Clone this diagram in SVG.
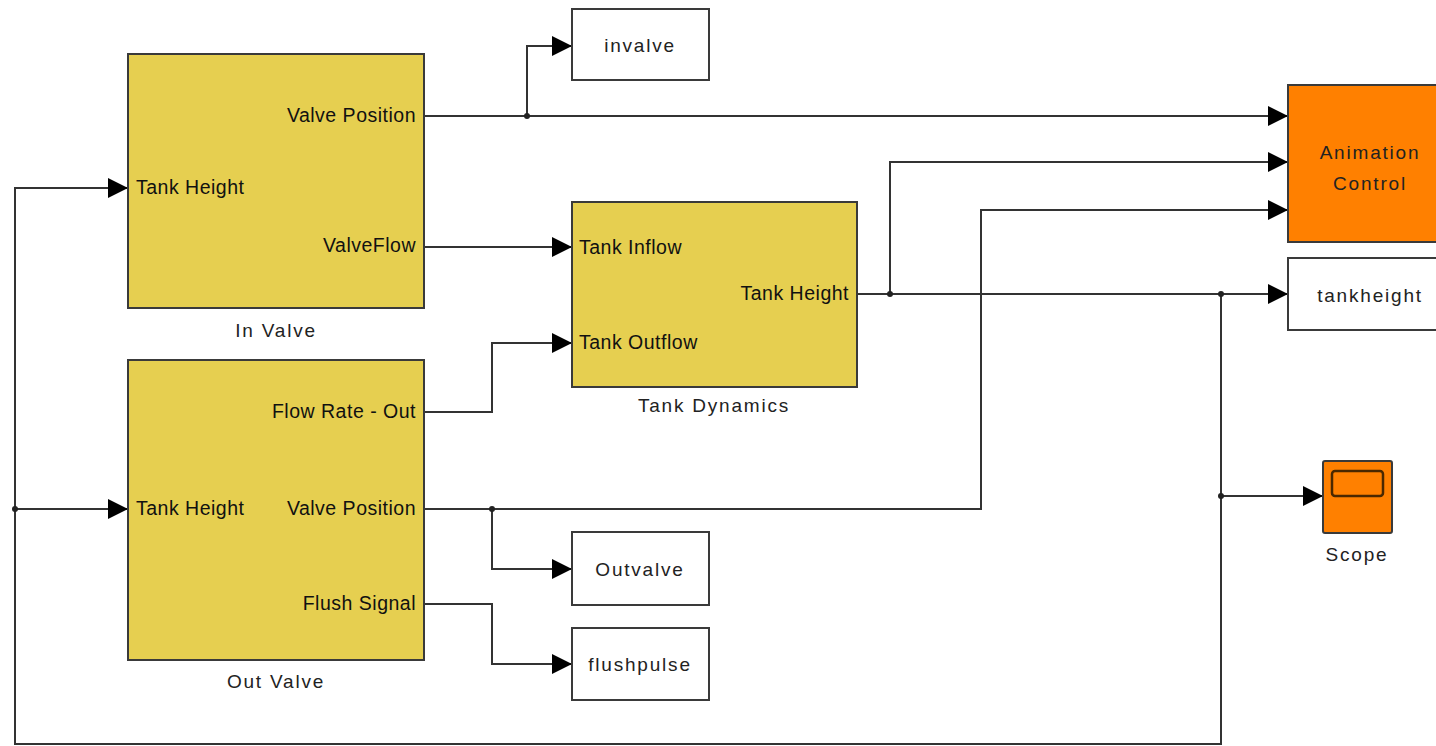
<svg xmlns="http://www.w3.org/2000/svg" width="1436" height="746" viewBox="0 0 1436 746">
<style>
.blk{fill:#e6cf50;stroke:#3a3a3a;stroke-width:2}
.out{fill:#ffffff;stroke:#3a3a3a;stroke-width:2}
.org{fill:#ff8000;stroke:#3a3a3a;stroke-width:2}
.port{font-family:"Liberation Sans",Arial,sans-serif;font-size:19.5px;fill:#111;letter-spacing:0.5px}
.lbl{font-family:"Liberation Sans",Arial,sans-serif;font-size:19px;fill:#222;letter-spacing:1.8px;text-anchor:middle}
.w{fill:none;stroke:#333;stroke-width:2}
.dot{fill:#222}
</style>
<defs>
<marker id="arr" markerUnits="userSpaceOnUse" viewBox="0 0 20 20" markerWidth="20" markerHeight="20" refX="20" refY="10" orient="auto">
<path d="M0,0 L20,10 L0,20 Z" fill="#000"/>
</marker>
</defs>
<rect width="1436" height="746" fill="#ffffff"/>
<g id="connectors">
<path class="w" d="M424,116 H1288" marker-end="url(#arr)"/>
<path class="w" d="M527,116 V46 H572" marker-end="url(#arr)"/>
<path class="w" d="M424,247 H572" marker-end="url(#arr)"/>
<path class="w" d="M424,412 H492 V343 H572" marker-end="url(#arr)"/>
<path class="w" d="M857,294 H1288" marker-end="url(#arr)"/>
<path class="w" d="M890,294 V162 H1288" marker-end="url(#arr)"/>
<path class="w" d="M1221,294 V744 H15 V188 H128" marker-end="url(#arr)"/>
<path class="w" d="M15,509 H128" marker-end="url(#arr)"/>
<path class="w" d="M1221,496 H1323" marker-end="url(#arr)"/>
<path class="w" d="M424,509 H981 V210 H1288" marker-end="url(#arr)"/>
<path class="w" d="M492,509 V569 H572" marker-end="url(#arr)"/>
<path class="w" d="M424,604 H492 V664 H572" marker-end="url(#arr)"/>
<circle class="dot" cx="527" cy="116" r="3"/>
<circle class="dot" cx="890" cy="294" r="3"/>
<circle class="dot" cx="1221" cy="294" r="3"/>
<circle class="dot" cx="1221" cy="496" r="3"/>
<circle class="dot" cx="15" cy="509" r="3"/>
<circle class="dot" cx="492" cy="509" r="3"/>
</g>
<g id="in-valve">
<rect class="blk" x="128" y="54" width="296" height="254"/>
<text class="port" x="136" y="194">Tank Height</text>
<text class="port" x="416" y="122" text-anchor="end">Valve Position</text>
<text class="port" x="416" y="252" text-anchor="end">ValveFlow</text>
<text class="lbl" x="276" y="337">In Valve</text>
</g>
<g id="out-valve">
<rect class="blk" x="128" y="360" width="296" height="300"/>
<text class="port" x="136" y="515">Tank Height</text>
<text class="port" x="416" y="418" text-anchor="end">Flow Rate - Out</text>
<text class="port" x="416" y="515" text-anchor="end">Valve Position</text>
<text class="port" x="416" y="610" text-anchor="end">Flush Signal</text>
<text class="lbl" x="276" y="688">Out Valve</text>
</g>
<g id="tank-dynamics">
<rect class="blk" x="572" y="202" width="285" height="185"/>
<text class="port" x="579" y="254">Tank Inflow</text>
<text class="port" x="579" y="349">Tank Outflow</text>
<text class="port" x="849" y="300" text-anchor="end">Tank Height</text>
<text class="lbl" x="714" y="412">Tank Dynamics</text>
</g>
<g id="invalve">
<rect class="out" x="572" y="9" width="137" height="71"/>
<text class="lbl" x="640" y="52">invalve</text>
</g>
<g id="outvalve">
<rect class="out" x="572" y="532" width="137" height="73"/>
<text class="lbl" x="640" y="576">Outvalve</text>
</g>
<g id="flushpulse">
<rect class="out" x="572" y="628" width="137" height="72"/>
<text class="lbl" x="640" y="671">flushpulse</text>
</g>
<g id="animation-control">
<rect class="org" x="1288" y="85" width="166" height="157"/>
<text class="lbl" x="1370" y="159">Animation</text>
<text class="lbl" x="1370" y="190">Control</text>
</g>
<g id="tankheight">
<rect class="out" x="1288" y="258" width="166" height="72"/>
<text class="lbl" x="1370" y="302">tankheight</text>
</g>
<g id="scope">
<rect class="org" x="1323" y="461" width="69" height="72" rx="2"/>
<rect x="1332" y="471" width="51" height="25" rx="3" fill="#ff8000" stroke="#4a2800" stroke-width="2.5"/>
<text class="lbl" x="1357" y="561">Scope</text>
</g>
</svg>
